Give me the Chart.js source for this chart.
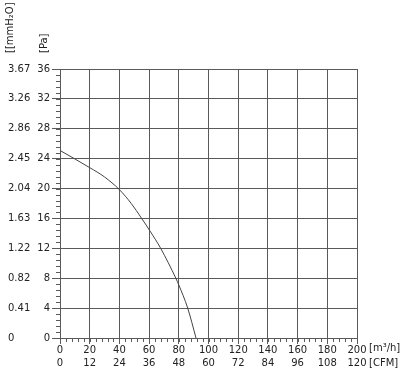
<!DOCTYPE html>
<html>
<head>
<meta charset="utf-8">
<script src="https://cdn.jsdelivr.net/npm/chart.js@4.4.0/dist/chart.umd.min.js"></script>
<style>
  html, body { margin: 0; padding: 0; background: #fff; }
  #wrap { width: 418px; height: 375px; }
</style>
</head>
<body>
<div id="wrap"><canvas id="fanChart"></canvas></div>
<script>
// curve: flow [m3/h] vs static pressure [Pa]
const flowM3h = [0, 20, 30, 40, 48, 55, 61, 67.8, 78, 80, 86, 91.6];
const pressurePa = [25.1, 22.8, 21.55, 19.85, 18.0, 16.0, 14.2, 12.0, 8.0, 7.1, 4.0, 0];

// tick labels
const mmH2OTicks = ['0', '0.41', '0.82', '1.22', '1.63', '2.04', '2.45', '2.86', '3.26', '3.67'];
const cfmTicks = ['0', '12', '24', '36', '48', '60', '72', '84', '96', '108', '120'];

const gridColor = '#5a5a5a';
const textColor = '#222';
const font = { family: 'DejaVu Sans', size: 10 };

const points = flowM3h.map((x, i) => ({ x: x, y: pressurePa[i] }));

// small ticks between the major ones + unit titles
const extras = {
    id: 'extras',
    afterDraw(chart) {
        const { ctx, chartArea, scales } = chart;
        ctx.save();
        ctx.strokeStyle = gridColor;
        ctx.lineWidth = 1;
        ctx.beginPath();
        for (let i = 0; i <= 45; i++) {
            const y = Math.round(scales.y.getPixelForValue(i * 0.8)) + 0.5;
            ctx.moveTo(chartArea.left - 4, y);
            ctx.lineTo(chartArea.left, y);
        }
        for (let i = 0; i <= 50; i++) {
            const x = Math.round(scales.x.getPixelForValue(i * 4)) + 0.5;
            ctx.moveTo(x, chartArea.bottom);
            ctx.lineTo(x, chartArea.bottom + 4);
        }
        ctx.stroke();

        ctx.fillStyle = textColor;
        ctx.font = '10px "DejaVu Sans"';
        ctx.textBaseline = 'middle';
        ctx.textAlign = 'left';
        const unitX = scales.x.getPixelForValue(200) + 12;
        ctx.fillText('[m³/h]', unitX, 348);
        ctx.fillText('[CFM]', unitX, 363);

        [['[[mmH₂O]', 10], ['[Pa]', 44]].forEach(([t, x]) => {
            ctx.save();
            ctx.translate(x, 53);
            ctx.rotate(-Math.PI / 2);
            ctx.fillText(t, 0, 0);
            ctx.restore();
        });
        ctx.restore();
    }
};

new Chart(document.getElementById('fanChart'), {
    type: 'scatter',
    data: {
        datasets: [{
            data: points,
            showLine: true,
            borderColor: '#444',
            borderWidth: 1,
            pointRadius: 0,
            cubicInterpolationMode: 'monotone',
            fill: false
        }]
    },
    options: {
        responsive: true,
        maintainAspectRatio: false,
        animation: false,
        layout: { padding: { top: 69, right: 61, left: 8, bottom: 0 } },
        plugins: { legend: { display: false }, tooltip: { enabled: false } },
        scales: {
            x: {
                type: 'linear',
                position: 'bottom',
                min: 0, max: 200,
                weight: 0,
                ticks: { stepSize: 20, color: textColor, font: font, padding: 0, maxRotation: 0 },
                grid: { color: gridColor, tickLength: 6 },
                border: { color: gridColor },
                afterFit: s => { s.height = 18; }
            },
            xCfm: {
                type: 'linear',
                position: 'bottom',
                min: 0, max: 200,
                weight: 1,
                ticks: {
                    stepSize: 20, color: textColor, font: font, padding: 1, maxRotation: 0,
                    callback: (v, i) => cfmTicks[i]
                },
                grid: { display: false, drawTicks: false },
                border: { display: false },
                afterFit: s => { s.height = 19; }
            },
            y: {
                type: 'linear',
                position: 'left',
                min: 0, max: 36,
                weight: 0,
                ticks: { stepSize: 4, color: textColor, font: font, padding: 2 },
                grid: { color: gridColor, tickLength: 8 },
                border: { color: gridColor },
                afterFit: s => { s.width = 24; }
            },
            yMm: {
                type: 'linear',
                position: 'left',
                min: 0, max: 36,
                weight: 1,
                ticks: {
                    stepSize: 4, color: textColor, font: font, crossAlign: 'far',
                    callback: (v, i) => mmH2OTicks[i]
                },
                grid: { display: false, drawTicks: false },
                border: { display: false },
                afterFit: s => { s.width = 28; }
            }
        }
    },
    plugins: [extras]
});
</script>
</body>
</html>
